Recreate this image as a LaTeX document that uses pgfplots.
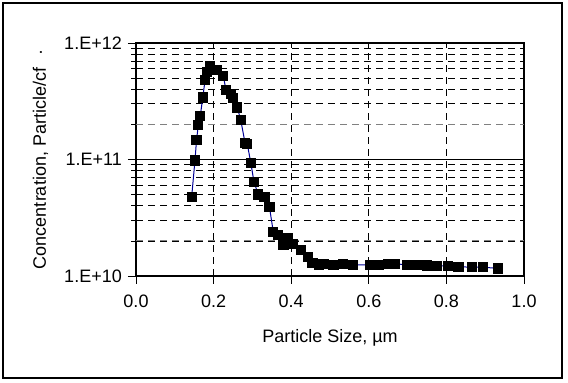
\documentclass[border=0pt]{standalone}
\usepackage{pgfplots}
\pgfplotsset{compat=1.18}
\usepackage{fontspec}
\setmainfont{Liberation Sans}
\definecolor{linenavy}{RGB}{0,0,150}
\pgfplotstableread{
x y
0.1435 4.8e10
0.152 9.8e10
0.156 1.47e11
0.1607 1.98e11
0.1658 2.38e11
0.172 3.4e11
0.178 4.8e11
0.182 5.6e11
0.191 6.3e11
0.199 5.9e11
0.208 5.9e11
0.225 5.2e11
0.232 3.95e11
0.245 3.65e11
0.251 3.35e11
0.261 2.79e11
0.270 2.18e11
0.281 1.39e11
0.287 1.35e11
0.296 9.3e10
0.304 6.45e10
0.315 5.0e10
0.331 4.8e10
0.344 3.9e10
0.354 2.37e10
0.367 2.25e10
0.380 1.85e10
0.391 2.11e10
0.405 1.87e10
0.425 1.67e10
0.443 1.45e10
0.455 1.30e10
0.472 1.24e10
0.483 1.26e10
0.509 1.25e10
0.534 1.26e10
0.560 1.25e10
0.603 1.24e10
0.625 1.25e10
0.650 1.26e10
0.668 1.27e10
0.698 1.25e10
0.723 1.24e10
0.749 1.23e10
0.775 1.22e10
0.805 1.22e10
0.831 1.20e10
0.865 1.19e10
0.895 1.19e10
0.934 1.16e10
}\datatable
\begin{document}
\fontsize{18}{21}\selectfont
\begin{tikzpicture}[x=1pt,y=1pt]
\useasboundingbox (0,0) rectangle (568,383);
\draw[line width=2pt] (3,5) rectangle (562,380);
\begin{axis}[
  at={(136pt,107pt)}, anchor=south west,
  scale only axis, width=388pt, height=233pt,
  xmin=0, xmax=1, ymin=1e10, ymax=1e12,
  ymode=log,
  xtick={0,0.2,0.4,0.6,0.8,1},
  xticklabels={0.0,0.2,0.4,0.6,0.8,1.0},
  ytick={1e10,1e11,1e12},
  yticklabels={{\mbox{1.E+10}},{\mbox{1.E+11}},{\mbox{1.E+12}}},
  xtick pos=bottom, ytick pos=left,
  tick align=outside,
  major tick length=8pt, minor tick length=5pt,
  tick style={black, line width=0.8pt},
  axis line style={black, line width=1.4pt},
  ymajorgrids=true, yminorgrids=true,
  major grid style={black, line width=0.8pt},
  minor grid style={black, line width=0.8pt, dash pattern=on 7pt off 5pt},
  extra x ticks={0.2,0.4,0.6,0.8},
  extra x tick labels={},
  extra x tick style={grid=major, major grid style={black, line width=0.8pt, dash pattern=on 7pt off 5pt}, major tick length=0pt},
  extra y ticks={2e10,2e11},
  extra y tick labels={},
  extra y tick style={grid=major, major grid style={gray, line width=0.9pt, dash pattern=on 7pt off 5pt}, major tick length=5pt},
  tick label style={font=\fontsize{18}{21}\selectfont, black},
  xticklabel style={yshift=-5pt},
  label style={font=\fontsize{18}{21}\selectfont, black},
  xlabel={Particle Size, µm},
  ylabel={Concentration, Particle/cf\hspace{12pt}·},
  xlabel style={at={(axis description cs:0.5,-0.2875)}, anchor=base},
  ylabel style={at={(axis description cs:-0.232,0.5)}, anchor=base, rotate=0},
]
\addplot[color=linenavy, line width=1pt, mark=square*, mark size=4.6pt,
  mark options={fill=black, draw=black, solid}] table[x=x,y=y] {\datatable};
\end{axis}
\end{tikzpicture}
\end{document}
